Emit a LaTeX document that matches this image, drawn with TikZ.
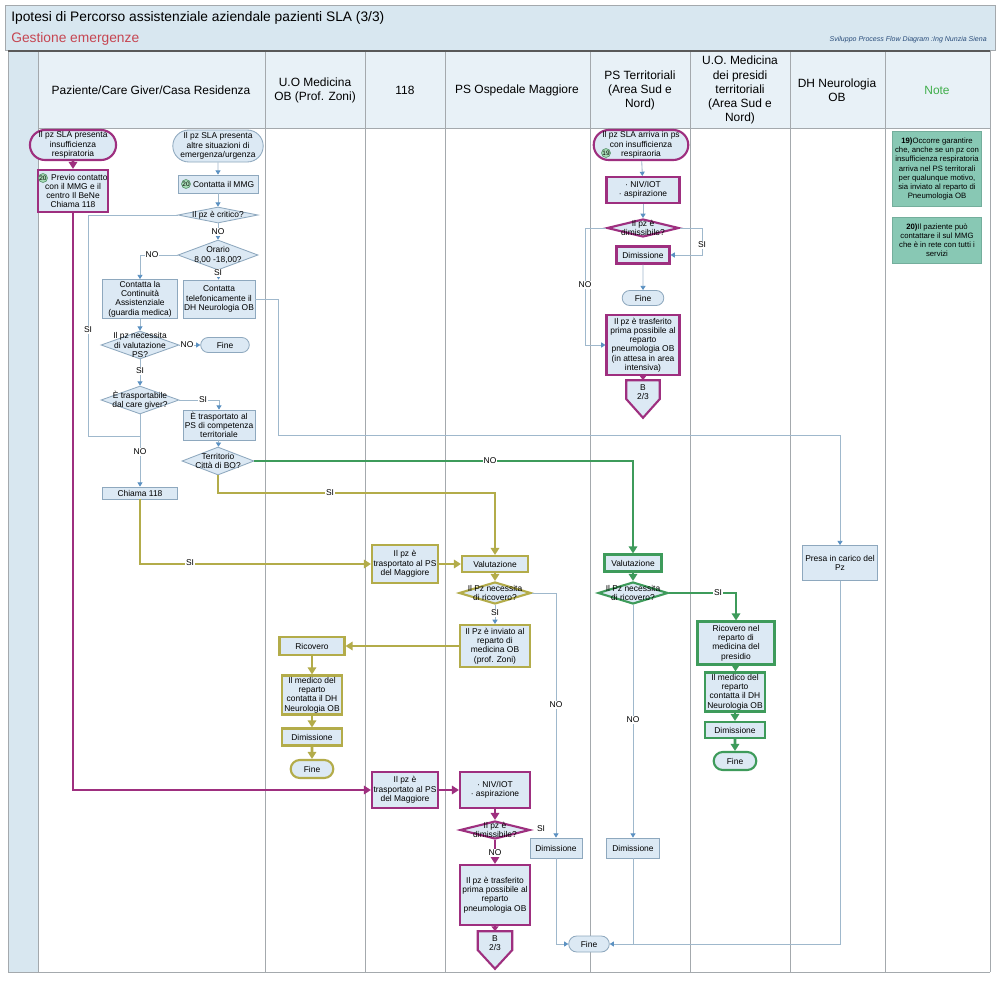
\documentclass[tikz,border=0pt]{standalone}
\usepackage{fontspec}
\setmainfont{Liberation Sans}
\usetikzlibrary{arrows.meta,shapes.geometric,shapes.misc,calc}
\definecolor{mag}{HTML}{9E2F7F}
\definecolor{oli}{HTML}{B3AC4A}
\definecolor{grn}{HTML}{3E9B5B}
\definecolor{bfill}{HTML}{DCE9F4}
\definecolor{tb}{HTML}{8EA8BE}
\definecolor{lc}{HTML}{9FB8CC}
\definecolor{ac}{HTML}{5B91C2}
\definecolor{band}{HTML}{D8E7F0}
\definecolor{hcell}{HTML}{E8F1F7}
\definecolor{sepc}{HTML}{A4A9AD}
\definecolor{notef}{HTML}{88C8B4}
\definecolor{noted}{HTML}{74AE9C}
\definecolor{bdg}{HTML}{A6DBB4}
\definecolor{bdgd}{HTML}{4E8C63}
\definecolor{ttlred}{HTML}{C64652}
\definecolor{notegrn}{HTML}{3FAE4A}
\definecolor{sigc}{HTML}{294C7A}
\begin{document}
\begin{tikzpicture}[x=0.025cm,y=-0.025cm,
 sz/.style 2 args={minimum width=#1*0.025cm,minimum height=#2*0.025cm},
 bt/.style={font=\fontsize{6}{6.6}\selectfont,align=center,inner sep=0.5pt},
 nb/.style={bt,rectangle,fill=bfill,draw=tb,line width=0.6pt},
 mb/.style={nb,draw=mag,line width=1.5pt},
 ob/.style={nb,draw=oli,line width=1.5pt},
 gb/.style={nb,draw=grn,line width=1.5pt},
 term/.style={nb,rounded rectangle},
 mterm/.style={mb,rounded rectangle},
 oterm/.style={ob,rounded rectangle},
 gterm/.style={gb,rounded rectangle},
 dia/.style={diamond,fill=bfill,draw=tb,line width=0.6pt,inner sep=0pt},
 mdia/.style={dia,draw=mag,line width=1.5pt},
 odia/.style={dia,draw=oli,line width=1.5pt},
 gdia/.style={dia,draw=grn,line width=1.5pt},
 tl/.style={draw=lc,line width=0.6pt},
 ta/.style={tl,-{Triangle[width=3.6pt,length=3pt,color=ac]}},
 ml/.style={draw=mag,line width=1.8pt,-{Triangle[width=6pt,length=5pt]}},
 msl/.style={draw=mag,line width=1.2pt,-{Triangle[width=5pt,length=3.5pt]}},
 ol/.style={draw=oli,line width=1.8pt,-{Triangle[width=6pt,length=5pt]}},
 gl/.style={draw=grn,line width=1.8pt,-{Triangle[width=6pt,length=5pt]}},
 lab/.style={font=\fontsize{6}{6.6}\selectfont,fill=white,inner sep=0.6pt},
 hd/.style={font=\fontsize{8.5}{10}\selectfont,align=center},
 badge/.style={circle,fill=bdg,draw=bdgd,line width=0.4pt,inner sep=0pt,minimum size=9*0.025cm,font=\fontsize{4.6}{5}\selectfont},
 note/.style={rectangle,fill=notef,draw=noted,line width=0.4pt,font=\fontsize{5.5}{6.5}\selectfont,align=center,inner sep=1pt},
 sepl/.style={draw=sepc,line width=0.6pt},
]
\useasboundingbox (0,0) rectangle (1000,1000);
\fill[white] (0,0) rectangle (1000,1000);
% frame and lanes
\fill[band] (5,5) rectangle (995,50);
\draw[sepl] (5,5) rectangle (995,50);
\fill[band] (8,50) rectangle (38,972);
\fill[hcell] (38,52) rectangle (990,128);
\foreach \xx in {8,38,265,365,445,590,690,790,885,990} \draw[sepl] (\xx,50) -- (\xx,972);
\draw[sepl] (38,128) -- (990,128);
\draw[draw=gray!70!black,line width=0.9pt] (8,51) -- (990,51);
\draw[sepl] (8,972) -- (990,972);
% title
\node[anchor=west,font=\fontsize{9.8}{11}\selectfont,inner sep=0] (ttl) at (11,18) {Ipotesi di Percorso assistenziale aziendale pazienti SLA (3/3)};
\node[anchor=west,font=\fontsize{9.8}{11}\selectfont,text=ttlred,inner sep=0] (sub) at (11,39) {Gestione emergenze};
\node[anchor=east,font=\fontsize{5}{6}\selectfont\itshape,text=sigc,inner sep=0] (sig) at (987,40) {Sviluppo Process Flow Diagram :Ing Nunzia Siena};
% lane headers
\node[hd] (hA) at (151,90) {Paziente/Care Giver/Casa Residenza};
\node[hd] (hB) at (315,90) {U.O Medicina\\OB (Prof. Zoni)};
\node[hd] (hC) at (405,90) {118};
\node[hd] (hD) at (517,90) {PS Ospedale Maggiore};
\node[hd] (hE) at (640,90) {PS Territoriali\\(Area Sud e\\Nord)};
\node[hd] (hF) at (740,90) {U.O. Medicina\\dei presidi\\territoriali\\(Area Sud e\\Nord)};
\node[hd] (hG) at (837,90) {DH Neurologia\\OB};
\node[hd,text=notegrn] (hH) at (937,90) {Note};
% notes
\node[note,sz={89}{75}] (k1) at (937,169) {\textbf{19)}Occorre garantire\\che, anche se un pz con\\insufficienza respiratoria\\arriva nel PS territorali\\per qualunque motivo,\\sia inviato al reparto di\\Pneumologia OB};
\node[note,sz={89}{46}] (k2) at (937,240) {\textbf{20)}Il paziente può\\contattare il sul MMG\\che è in rete con tutti i\\servizi};
% column 1
\node[mterm,sz={70}{30}] (a1) at (73,145) {Il pz SLA presenta\\insufficienza\\respiratoria};
\node[mb,sz={70}{42}] (a2) at (73,191) {\hspace{9pt}Previo contatto\\con il MMG e il\\centro Il BeNe\\Chiama 118};
\node[badge] (bd1) at (43,178) {20};
\node[term,sz={80}{32}] (b1) at (218,146) {Il pz SLA presenta\\altre situazioni di\\emergenza/urgenza};
\node[nb,sz={80}{18}] (b2) at (218,184) {\hspace{8pt}Contatta il MMG};
\node[badge] (bd2) at (186,184) {20};
\node[dia,sz={80}{16}] (b3) at (218,215) {};
\node[bt] (b3t) at (218,215) {Il pz è critico?};
\node[dia,sz={80}{30}] (b4) at (218,255) {};
\node[bt] (b4t) at (218,255) {Orario\\8,00 -18,00?};
\node[nb,sz={72}{38}] (b5) at (219,299) {Contatta\\telefonicamente il\\DH Neurologia OB};
\node[nb,sz={75}{39}] (c1) at (140,299) {Contatta la\\Continuità\\Assistenziale\\(guardia medica)};
\node[dia,sz={78}{28}] (c2) at (140,345) {};
\node[bt] (c2t) at (140,345) {Il pz necessita\\di valutazione\\PS?};
\node[term,sz={50}{15}] (d1) at (225,345) {Fine};
\node[dia,sz={78}{28}] (c3) at (140,400) {};
\node[bt] (c3t) at (140,400) {È trasportabile\\dal care giver?};
\node[nb,sz={72}{30}] (c4) at (219,425) {È trasportato al\\PS di competenza\\territoriale};
\node[dia,sz={72}{28}] (c5) at (218,461) {};
\node[bt] (c5t) at (218,461) {Territorio\\Città di BO?};
\node[nb,sz={75}{12}] (c6) at (140,493) {Chiama 118};
\coordinate (j20) at (140,436);
% 118
\node[ob,sz={66}{38}] (e1) at (405,564) {Il pz è\\trasportato al PS\\del Maggiore};
\node[mb,sz={66}{36}] (e2) at (405,790) {Il pz è\\trasportato al PS\\del Maggiore};
% PS Maggiore
\node[ob,sz={66}{16}] (f1) at (495,564) {Valutazione};
\node[odia,sz={72}{22}] (f2) at (495,593) {};
\node[bt] (f2t) at (495,593) {Il Pz necessita\\di ricovero?};
\node[ob,sz={70}{42}] (f3) at (495,646) {Il Pz è inviato al\\reparto di\\medicina OB\\(prof. Zoni)};
\node[mb,sz={70}{36}] (f4) at (495,790) {·~NIV/IOT\\·~aspirazione};
\node[mdia,sz={70}{18}] (f5) at (495,830) {};
\node[bt] (f5t) at (495,830) {Il pz è\\dimissibile?};
\node[mb,sz={70}{60}] (f6) at (495,895) {Il pz è trasferito\\prima possibile al\\reparto\\pneumologia OB};
\node[sz={34}{37},inner sep=0] (f7) at (495,950) {};
\draw[mag,line width=1.5pt,fill=bfill] (f7.north west) -- (f7.north east) -- ($(f7.north east)!0.5!(f7.south east)$) -- (f7.south) -- ($(f7.north west)!0.5!(f7.south west)$) -- cycle;
\node[bt] (f7t) at ($(f7.center)+(0,-7)$) {B\\2/3};
\node[nb,sz={52}{20}] (dimP) at (556,848) {Dimissione};
\node[term,sz={42}{16}] (fine2) at (589,944) {Fine};
% UO Medicina OB
\node[ob,sz={65}{18}] (g1) at (312,646) {Ricovero};
\node[ob,sz={60}{39}] (g2) at (312,695) {Il medico del\\reparto\\contatta il DH\\Neurologia OB};
\node[ob,sz={60}{17}] (g3) at (312,737) {Dimissione};
\node[oterm,sz={44}{18}] (g4) at (312,769) {Fine};
% PS Territoriali
\node[mterm,sz={82}{30}] (h1) at (641,145) {Il pz SLA arriva in ps\\con insufficienza\\respiraoria};
\node[badge] (bd3) at (606,153) {19};
\node[mb,sz={73}{26}] (h2) at (643,190) {·~NIV/IOT\\·~aspirazione};
\node[mdia,sz={72}{18}] (h3) at (643,228) {};
\node[bt] (h3t) at (643,228) {Il pz è\\dimissibile?};
\node[mb,sz={53}{17}] (h4) at (643,255) {Dimissione};
\node[term,sz={43}{15}] (h5) at (643,298) {Fine};
\node[mb,sz={73}{60}] (h6) at (643,345) {Il pz è trasferito\\prima possibile al\\reparto\\pneumologia OB\\(in attesa in area\\intensiva)};
\node[sz={33}{37},inner sep=0] (h7) at (643,399) {};
\draw[mag,line width=1.5pt,fill=bfill] (h7.north west) -- (h7.north east) -- ($(h7.north east)!0.5!(h7.south east)$) -- (h7.south) -- ($(h7.north west)!0.5!(h7.south west)$) -- cycle;
\node[bt] (h7t) at ($(h7.center)+(0,-7)$) {B\\2/3};
\node[gb,sz={57}{17}] (h8) at (633,563) {Valutazione};
\node[gdia,sz={70}{22}] (h9) at (633,593) {};
\node[bt] (h9t) at (633,593) {Il Pz necessita\\di ricovero?};
\node[nb,sz={53}{20}] (dimT) at (633,848) {Dimissione};
% UO Medicina presidi
\node[gb,sz={77}{43}] (i1) at (736,643) {Ricovero nel\\reparto di\\medicina del\\presidio};
\node[gb,sz={60}{39}] (i2) at (735,692) {Il medico del\\reparto\\contatta il DH\\Neurologia OB};
\node[gb,sz={60}{16}] (i3) at (735,730) {Dimissione};
\node[gterm,sz={44}{18}] (i4) at (735,761) {Fine};
% DH Neurologia
\node[nb,sz={75}{35}] (j1) at (840,563) {Presa in carico del\\Pz};
% ---------- connectors
\draw[ml] (a1) -- (a2);
\draw[ml] (a2.south) |- (e2.west);
\draw[ml] (e2) -- (f4);
\draw[ml] (f4) -- (f5);
\draw[ml] (f5) -- (f6);
\node[lab] (l1) at (495,853) {NO};
\node[lab] (l2) at (541,829) {SI};
\draw[msl] (f6) -- (f7.north);
\draw[ta] (b1) -- (b2);
\draw[ta] (b2) -- (b3);
\draw[ta] (b3) -- (b4);
\node[lab] (l3) at (218,232) {NO};
\draw[ta] (b4.west) -| (c1.north);
\node[lab] (l4) at (152,255) {NO};
\draw[ta] (b4) -- (b5);
\node[lab] (l5) at (218,273) {SI};
\draw[ta] (b5.east) -| (278,435) -| (j1.north);
\draw[ta] (c1) -- (c2);
\draw[ta] (c2) -- (d1);
\node[lab] (l6) at (187,345) {NO};
\draw[ta] (c2) -- (c3);
\node[lab] (l7) at (140,371) {SI};
\draw[ta] (c3.east) -| (c4.north);
\node[lab] (l8) at (203,400) {SI};
\draw[ta] (c4) -- (c5);
\draw[ta] (c3) -- (c6);
\node[lab] (l9) at (140,452) {NO};
\draw[tl] (b3.west) -| (88,436) -- (j20);
\node[lab] (l10) at (88,330) {SI};
\draw[gl] (c5.east) -| (h8.north);
\node[lab] (l11) at (490,461) {NO};
\draw[ol] (c5.south) |- (330,493) -| (f1.north);
\node[lab] (l12) at (330,493) {SI};
\draw[ol] (c6.south) |- (e1.west);
\node[lab] (l13) at (190,563) {SI};
\draw[ol] (e1) -- (f1);
\draw[ol] (f1) -- (f2);
\draw[ta] (f2) -- (f3);
\node[lab] (l14) at (495,613) {SI};
\draw[ol] (f3.west) -- (g1.east);
\draw[ol] (g1) -- (g2);
\draw[ol] (g2) -- (g3);
\draw[ol] (g3) -- (g4);
\draw[ta] (f2.east) -| (dimP.north);
\node[lab] (l15) at (556,705) {NO};
\draw[ta] (dimP.south) |- (fine2.west);
\draw[ta] (h1) -- (h2);
\draw[ta] (h2) -- (h3);
\draw[ta] (h3.east) -- (702,228) |- (h4.east);
\node[lab] (l16) at (702,245) {SI};
\draw[ta] (h4) -- (h5);
\draw[ta] (h3.west) -- (585,228) |- (h6.west);
\node[lab] (l17) at (585,285) {NO};
\draw[msl] (h6) -- (h7.north);
\draw[gl] (h8) -- (h9);
\draw[gl] (h9.east) -| (i1.north);
\node[lab] (l18) at (718,593) {SI};
\draw[gl] (i1) -- (i2);
\draw[gl] (i2) -- (i3);
\draw[gl] (i3) -- (i4);
\draw[ta] (h9) -- (dimT);
\node[lab] (l19) at (633,720) {NO};
\draw[tl] (dimT.south) -- (dimT.south |- fine2.east);
\draw[ta] (j1.south) |- (fine2.east);
\end{tikzpicture}
\end{document}
